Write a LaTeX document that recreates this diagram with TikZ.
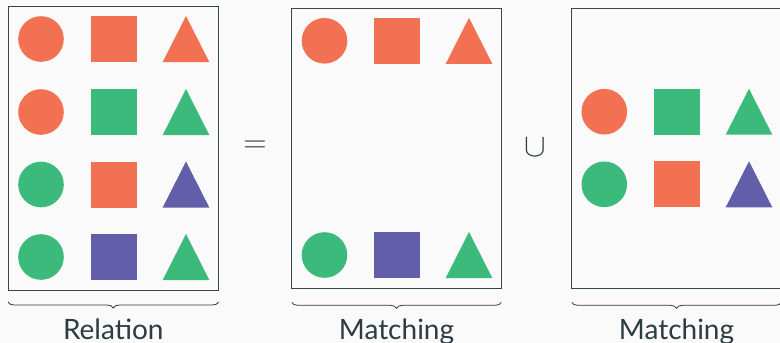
\documentclass[tikz,border=0pt]{standalone}
\usepackage{fontspec}
\setmainfont{Lato}
\usetikzlibrary{decorations.pathreplacing}
\definecolor{paper}{HTML}{FAFAFA}
\definecolor{ink}{HTML}{2C3C40}
\definecolor{frame}{HTML}{34464B}
\definecolor{cOr}{HTML}{F37153}
\definecolor{cGr}{HTML}{3CBA7C}
\definecolor{cPu}{HTML}{625EA9}

% shapes: centre x, centre y, colour
\newcommand\shCirc[3]{\fill[#3] (#1,#2) circle (22.8);}
\newcommand\shSq[3]{\fill[#3] (#1-23,#2-23) rectangle (#1+23,#2+23);}
\newcommand\shTri[3]{\fill[#3] (#1,#2-23) -- (#1+23.3,#2+23) -- (#1-23.3,#2+23) -- cycle;}

\begin{document}
\begin{tikzpicture}[x=1pt,y=-1pt,
  panel/.style={draw=frame, line width=1pt, anchor=north west, inner sep=0pt, outer sep=0pt},
  setbrace/.style={draw=ink, line width=0.8pt, decorate, decoration={brace, mirror, amplitude=6pt}},
  caption/.style={text=ink, font=\fontsize{28}{32}\selectfont, anchor=base},
  op/.style={text=ink, font=\fontsize{24}{28}\selectfont, scale=1.3}]
\fill[paper] (0,0) rectangle (780,343);
\useasboundingbox (0,0) rectangle (780,343);

% the three panels
\node[panel, minimum width=210.5pt, minimum height=284pt] (rel) at (8,6) {};
\node[panel, minimum width=209.6pt, minimum height=280.3pt] (m1) at (291.7,8) {};
\node[panel, minimum width=209.6pt, minimum height=280.3pt] (m2) at (571.7,8) {};

% relation: all four rows
\shCirc{41}{39}{cOr}   \shSq{113.7}{39}{cOr}   \shTri{186}{39}{cOr}
\shCirc{41}{112}{cOr}  \shSq{113.7}{112}{cGr}  \shTri{186}{112}{cGr}
\shCirc{41}{184.5}{cGr}\shSq{113.7}{184.5}{cOr}\shTri{186}{184.5}{cPu}
\shCirc{41}{257}{cGr}  \shSq{113.7}{257}{cPu}  \shTri{186}{257}{cGr}

% first matching
\shCirc{324.5}{40.8}{cOr}\shSq{396.8}{40.8}{cOr}\shTri{469}{40.8}{cOr}
\shCirc{324.5}{255}{cGr} \shSq{396.8}{255}{cPu} \shTri{469}{255}{cGr}

% second matching
\shCirc{604.3}{111.7}{cOr}\shSq{676.7}{111.7}{cGr}\shTri{749}{111.7}{cGr}
\shCirc{604.3}{184.3}{cGr}\shSq{676.7}{184.3}{cOr}\shTri{749}{184.3}{cPu}

% operators
\node[op] (eq) at (255,146.5) {$=$};
\node[op] (cup) at (535.7,148) {$\cup$};

% braces and captions
\draw[setbrace] ([yshift=-12pt]rel.south west) -- ([yshift=-12pt]rel.south east);
\draw[setbrace] ([yshift=-14pt]m1.south west) -- ([yshift=-14pt]m1.south east);
\draw[setbrace] ([yshift=-14pt]m2.south west) -- ([yshift=-14pt]m2.south east);
\node[caption] (lr) at (113.3,339.5) {Relation};
\node[caption] (l1) at (396.5,339.5) {Matching};
\node[caption] (l2) at (676.5,339.5) {Matching};
\end{tikzpicture}
\end{document}
